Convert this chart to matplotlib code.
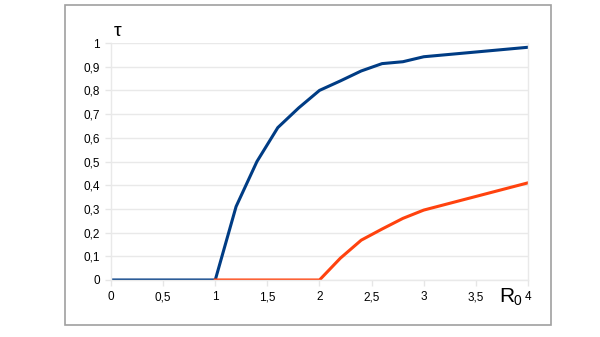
import matplotlib
matplotlib.use('Agg')
import matplotlib.pyplot as plt
from matplotlib.patches import Rectangle
from matplotlib.ticker import FuncFormatter

# données
r0_blue = [0, 0.2, 0.4, 0.6, 0.8, 1.0, 1.2, 1.4, 1.6, 1.8, 2.0, 2.2, 2.4, 2.6, 2.8, 3.0, 4.0]
tau_blue = [0, 0, 0, 0, 0, 0, 0.31, 0.50, 0.643, 0.726, 0.80, 0.84, 0.882, 0.913, 0.921, 0.942, 0.982]
r0_red = [1.0, 1.2, 1.4, 1.6, 1.8, 2.0, 2.2, 2.4, 2.6, 2.8, 3.0, 4.0]
tau_red = [0, 0, 0, 0, 0, 0, 0.092, 0.168, 0.215, 0.26, 0.295, 0.41]
x_ticks = [0, 0.5, 1, 1.5, 2, 2.5, 3, 3.5, 4]
y_ticks = [0, 0.1, 0.2, 0.3, 0.4, 0.5, 0.6, 0.7, 0.8, 0.9, 1.0]

plt.rcParams['font.family'] = ['Liberation Sans', 'DejaVu Sans']

fig = plt.figure(figsize=(6, 3.37), dpi=100)
fig.patch.set_facecolor('white')

# cadre extérieur
fig.patches.append(Rectangle((65 / 600, 12 / 337), 486 / 600, 320 / 337,
                             transform=fig.transFigure, fill=False,
                             edgecolor='#a0a0a0', linewidth=1.2))

ax = fig.add_axes([111 / 600, 57 / 337, 417 / 600, 237 / 337])
ax.plot(r0_blue, tau_blue, color='#003c84', lw=2.2, solid_joinstyle='round')
ax.plot(r0_red, tau_red, color='#ff420e', lw=2.2, solid_joinstyle='round')

ax.set_xlim(0, 4)
ax.set_ylim(0, 1)
ax.set_xticks(x_ticks)
ax.set_yticks(y_ticks)
fmt = FuncFormatter(lambda v, p: ('%g' % v).replace('.', ','))
ax.xaxis.set_major_formatter(fmt)
ax.yaxis.set_major_formatter(fmt)
ax.tick_params(axis='both', labelsize=8.5, colors='#e6e6e6', labelcolor='black',
               length=4, width=1)
ax.tick_params(axis='x', pad=4)
ax.tick_params(axis='y', pad=4)
ax.grid(axis='y', color='#e9e9e9', lw=1)
ax.set_axisbelow(True)
for s in ax.spines.values():
    s.set_color('#e9e9e9')
    s.set_linewidth(1)
ax.spines['top'].set_visible(False)

# étiquettes des axes
fig.text(118 / 600, 1 - 32 / 337, 'τ', fontsize=14, ha='center', va='center')
fig.text(499 / 600, 1 - 302 / 337, 'R', fontsize=15, ha='left', va='baseline')
fig.text(514 / 600, 1 - 305 / 337, '0', fontsize=10, ha='left', va='baseline')

fig.savefig('out.png', dpi=100)
